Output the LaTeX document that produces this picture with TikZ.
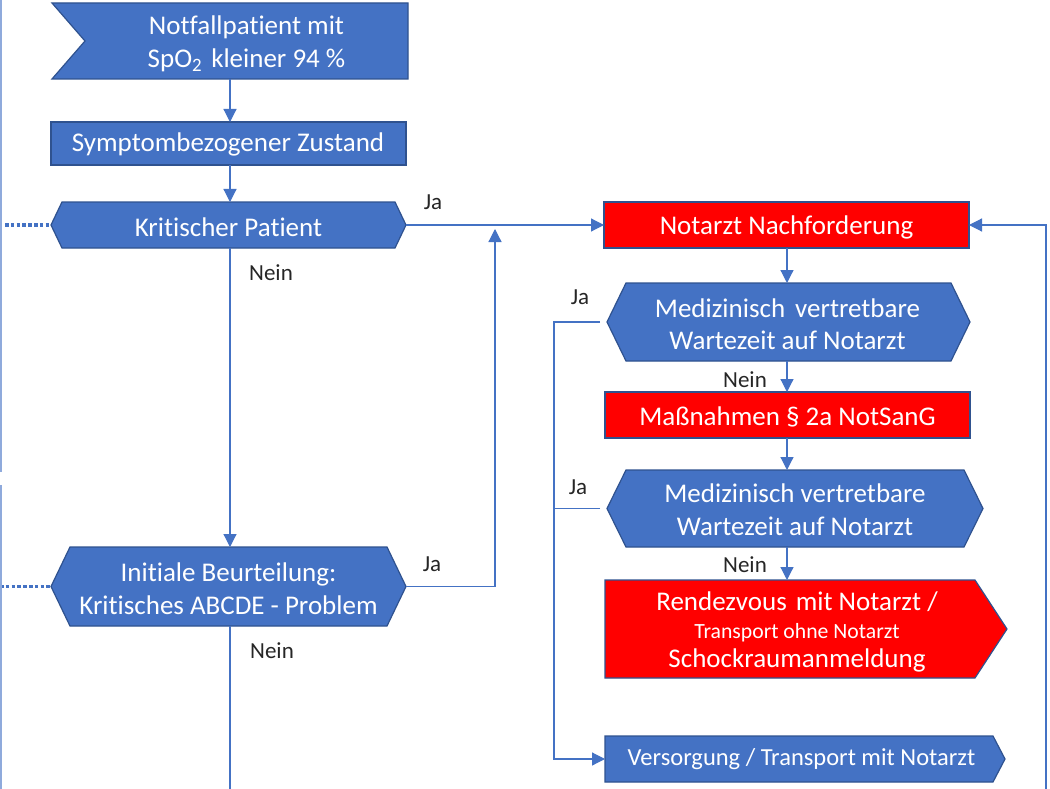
\documentclass[tikz,border=0pt]{standalone}
\usepackage{fontspec}
\setmainfont{Carlito}[Ligatures=NoCommon]
\usetikzlibrary{calc,arrows.meta}
\definecolor{obl}{HTML}{4472C4}
\definecolor{obd}{HTML}{2F528F}
\definecolor{ored}{HTML}{FF0000}
\definecolor{edgeblue}{HTML}{8FAADC}
\definecolor{lbltxt}{HTML}{262626}
\newcommand\hexag[3]{\path[#3] ($(#1.north west)+(#2,0)$) -- ($(#1.north east)+(-#2,0)$) -- (#1.east) -- ($(#1.south east)+(-#2,0)$) -- ($(#1.south west)+(#2,0)$) -- (#1.west) -- cycle;}
\newcommand\pentag[3]{\path[#3] (#1.north west) -- ($(#1.north east)+(-#2,0)$) -- (#1.east) -- ($(#1.south east)+(-#2,0)$) -- (#1.south west) -- cycle;}
\tikzset{
  geo/.style={draw=none,inner sep=0pt,outer sep=0pt},
  bluefill/.style={fill=obl,draw=obd,line width=1.2pt,line join=miter},
  redfill/.style={fill=ored,draw=obd,line width=1.2pt,line join=miter},
  txt/.style={text=white,align=center,inner sep=0pt,font=\fontsize{27}{32.5}\selectfont},
  lbl/.style={text=lbltxt,inner sep=0pt,font=\fontsize{23}{26}\selectfont},
  conn/.style={draw=obl,line width=1.2pt},
  arr/.style={conn,-{Triangle[length=13pt,width=13pt]}},
  dots/.style={draw=obl,line width=3.4pt,dash pattern=on 3.5pt off 2.3pt},
  edgeline/.style={draw=edgeblue,line width=1.6pt}
}
\begin{document}
\begin{tikzpicture}[x=1pt,y=-1pt]
\useasboundingbox[fill=white] (0,0) rectangle (1050,789);
% geometry nodes
\node[geo,minimum width=356pt,minimum height=76pt] (n1) at (230,41) {};
\node[geo,minimum width=355pt,minimum height=43pt] (n2) at (228.5,143.5) {};
\node[geo,minimum width=355pt,minimum height=46pt] (n3) at (228.5,225) {};
\node[geo,minimum width=355pt,minimum height=79pt] (n4) at (228.5,586.5) {};
\node[geo,minimum width=365pt,minimum height=46pt] (n5) at (786.5,225) {};
\node[geo,minimum width=363pt,minimum height=78pt] (n6) at (788.5,322) {};
\node[geo,minimum width=365pt,minimum height=46pt] (n7) at (787.5,415) {};
\node[geo,minimum width=376pt,minimum height=77pt] (n8) at (795,508.5) {};
\node[geo,minimum width=402pt,minimum height=98pt] (n9) at (806,629) {};
\node[geo,minimum width=400pt,minimum height=46pt] (n10) at (805,759) {};
% shapes
\path[bluefill] (n1.north west) -- (n1.north east) -- (n1.south east) -- (n1.south west) -- ($(n1.west)+(33,0)$) -- cycle;
\path[bluefill] (n2.north west) rectangle (n2.south east);
\hexag{n3}{11}{bluefill}
\hexag{n4}{19}{bluefill}
\path[redfill] (n5.north west) rectangle (n5.south east);
\hexag{n6}{19}{bluefill}
\path[redfill] (n7.north west) rectangle (n7.south east);
\hexag{n8}{19}{bluefill}
\pentag{n9}{32}{redfill}
\pentag{n10}{12}{bluefill}
% texts
\node[txt] (t1) at (246.5,44) {Notfallpatient mit\\SpO\textsubscript{2}\hspace{9pt}kleiner 94 \%};
\node[txt] (t2) at (228,144) {Symptombezogener Zustand};
\node[txt] (t3) at (228.5,227) {Kritischer Patient};
\node[txt] (t4) at (228.5,588.5) {Initiale Beurteilung:\\Kritisches ABCDE - Problem};
\node[txt] (t5) at (786.5,227) {Notarzt Nachforderung};
\node[txt] (t6) at (787.5,324) {Medizinisch\hspace{10pt}vertretbare\\Wartezeit auf Notarzt};
\node[txt] (t7) at (787.5,417) {Maßnahmen § 2a NotSanG};
\node[txt] (t8) at (795,509.5) {Medizinisch vertretbare\\Wartezeit auf Notarzt};
\node[txt,font=\fontsize{27}{28.5}\selectfont] (t9) at (797,631.5) {Rendezvous\hspace{9pt}mit Notarzt /\\{\fontsize{21.7}{28.5}\selectfont Transport ohne Notarzt}\\Schockraumanmeldung};
\node[txt,font=\fontsize{24.5}{28}\selectfont] (t10) at (801.5,759.5) {Versorgung / Transport mit Notarzt};
% labels
\node[lbl] (l1) at (433,202) {Ja};
\node[lbl] (l2) at (271,273) {Nein};
\node[lbl] (l3) at (432,564) {Ja};
\node[lbl] (l4) at (272,651) {Nein};
\node[lbl] (l5) at (580,297) {Ja};
\node[lbl] (l6) at (745,380) {Nein};
\node[lbl] (l7) at (578,487) {Ja};
\node[lbl] (l8) at (745,565) {Nein};
% helper coordinates
\coordinate (cL) at (230,0);
\coordinate (cR) at (787,0);
\coordinate (lv) at (554,0);
\coordinate (bot) at (230,789);
\coordinate (jn) at (495,229);
\coordinate (rb) at (1046,789);
\coordinate (d1) at (5,225);
\coordinate (d2) at (0,586.5);
\coordinate (e1) at (1,0);
\coordinate (e2) at (1,472);
\coordinate (e3) at (1,485);
\coordinate (e4) at (1,789);
% connectors
\draw[arr] (n1.south -| cL) -- (n2.north -| cL);
\draw[arr] (n2.south -| cL) -- (n3.north -| cL);
\draw[arr] (n3.south -| cL) -- (n4.north -| cL);
\draw[conn] (n4.south -| cL) -- (bot);
\draw[arr] (n3.east) -- (n5.west);
\draw[arr] (n4.east) -| (jn);
\draw[arr] (rb) |- (n5.east);
\draw[arr] (n5.south -| cR) -- (n6.north -| cR);
\draw[arr] (n6.south -| cR) -- (n7.north -| cR);
\draw[arr] (n7.south -| cR) -- (n8.north -| cR);
\draw[arr] (n8.south -| cR) -- (n9.north -| cR);
\draw[arr] ([xshift=-7pt]n6.west) -| (lv |- n10.west) -- (n10.west);
\draw[conn] ([xshift=-7pt]n8.west) -- (n8.west -| lv);
\draw[dots] (d1) -- (n3.west);
\draw[dots] (d2) -- (n4.west);
\draw[edgeline] (e1) -- (e2) (e3) -- (e4);
\end{tikzpicture}
\end{document}
